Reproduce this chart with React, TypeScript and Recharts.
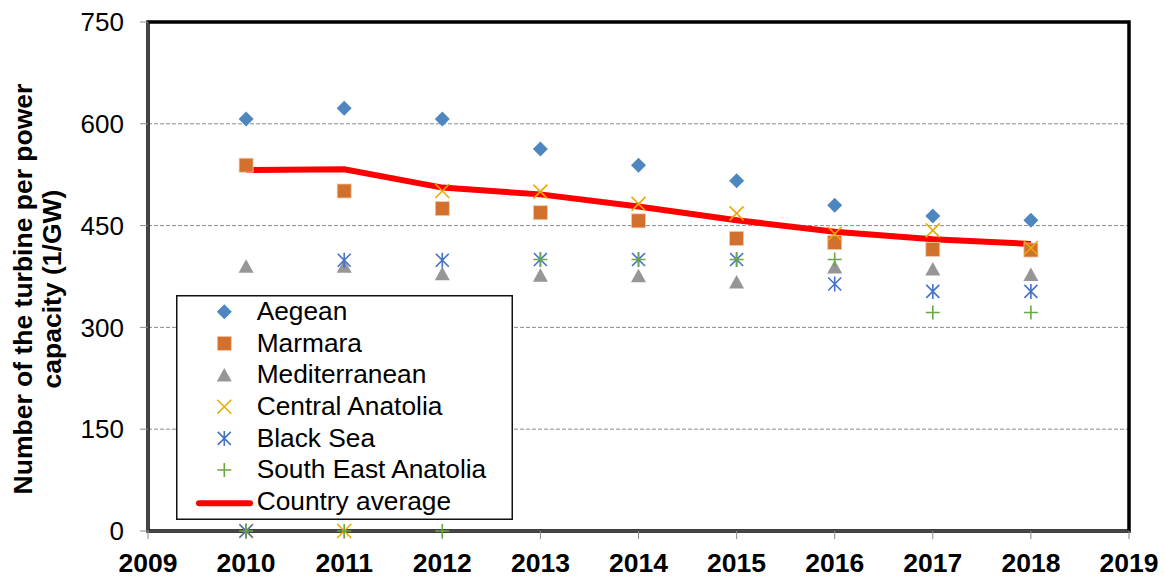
import React from "react";
import {
  ComposedChart,
  Scatter,
  Line,
  XAxis,
  YAxis,
  CartesianGrid,
  Legend,
  ReferenceArea,
} from "recharts";

const years = [2010, 2011, 2012, 2013, 2014, 2015, 2016, 2017, 2018];
const aegean = [607, 623, 607, 563, 539, 516, 480, 464, 458];
const marmara = [539, 501, 475, 469, 457, 431, 425, 415, 414];
const mediterranean = [390, 390, 379, 377, 376, 367, 389, 386, 378];
const centralAnatolia = [0, 0, 501, 500, 482, 468, 438, 443, 417];
const blackSea = [0, 399, 399, 400, 400, 400, 364, 353, 353];
const southEastAnatolia = [0, 0, 0, 400, 400, 400, 400, 322, 322];
const countryAverage = [532, 533, 506, 496, 478, 458, 441, 430, 423];

const xTicks = [2009, 2010, 2011, 2012, 2013, 2014, 2015, 2016, 2017, 2018, 2019];
const yTicks = [0, 150, 300, 450, 600, 750];

const FONT = '"Liberation Sans", Arial, sans-serif';

const C_AEGEAN = "#4E87C0";
const C_MARMARA = "#D2702D";
const C_MED = "#969696";
const C_CENTRAL = "#EBAA00";
const C_BLACK = "#4472C4";
const C_SE = "#6AA843";
const C_AVG = "#FF0000";

type P = { cx?: number; cy?: number };

const diamond = (color: string) => (p: P) => {
  const { cx = 0, cy = 0 } = p;
  const r = 7.5;
  return <path d={`M${cx},${cy - r}L${cx + r},${cy}L${cx},${cy + r}L${cx - r},${cy}Z`} fill={color} />;
};
const square = (color: string) => (p: P) => {
  const { cx = 0, cy = 0 } = p;
  const r = 7;
  return <rect x={cx - r} y={cy - r} width={2 * r} height={2 * r} fill={color} stroke="#F3C9A8" strokeWidth={0.8} />;
};
const triangle = (color: string) => (p: P) => {
  const { cx = 0, cy = 0 } = p;
  return <path d={`M${cx},${cy - 7}L${cx + 7.5},${cy + 6.5}L${cx - 7.5},${cy + 6.5}Z`} fill={color} />;
};
const cross = (color: string) => (p: P) => {
  const { cx = 0, cy = 0 } = p;
  const r = 7;
  return (
    <path d={`M${cx - r},${cy - r}L${cx + r},${cy + r}M${cx + r},${cy - r}L${cx - r},${cy + r}`} stroke={color} strokeWidth={1.6} fill="none" />
  );
};
const star = (color: string) => (p: P) => {
  const { cx = 0, cy = 0 } = p;
  const r = 6.5;
  return (
    <path
      d={`M${cx - r},${cy - r}L${cx + r},${cy + r}M${cx + r},${cy - r}L${cx - r},${cy + r}M${cx},${cy - r - 1}L${cx},${cy + r + 1}`}
      stroke={color}
      strokeWidth={1.6}
      fill="none"
    />
  );
};
const plus = (color: string) => (p: P) => {
  const { cx = 0, cy = 0 } = p;
  const r = 7;
  return <path d={`M${cx - r},${cy}L${cx + r},${cy}M${cx},${cy - r}L${cx},${cy + r}`} stroke={color} strokeWidth={1.6} fill="none" />;
};

const series = [
  { name: "Aegean", values: aegean, shape: diamond(C_AEGEAN) },
  { name: "Marmara", values: marmara, shape: square(C_MARMARA) },
  { name: "Mediterranean", values: mediterranean, shape: triangle(C_MED) },
  { name: "Central Anatolia", values: centralAnatolia, shape: cross(C_CENTRAL) },
  { name: "Black Sea", values: blackSea, shape: star(C_BLACK) },
  { name: "South East Anatolia", values: southEastAnatolia, shape: plus(C_SE) },
];

const avgData = years.map((y, i) => ({ year: y, value: countryAverage[i] }));

const LEG_W = 337;
const LEG_H = 225;

const LegendBox = () => {
  const rowH = 31.67;
  const textProps = { fontFamily: FONT, fontSize: 26.3, fill: "#000" };
  const lineY = 16.7 + 6 * rowH + 1.6;
  return (
    <svg width={LEG_W} height={LEG_H} style={{ display: "block" }}>
      <rect x={0.75} y={0.75} width={LEG_W - 1.5} height={LEG_H - 1.5} fill="#fff" stroke="#111" strokeWidth={1.5} />
      {series.map((s, i) => {
        const cy = 16.7 + i * rowH;
        return (
          <g key={s.name}>
            {s.shape({ cx: 48.3, cy })}
            <text x={80.7} y={25 + i * rowH} {...textProps}>
              {s.name}
            </text>
          </g>
        );
      })}
      <line x1={23} y1={lineY} x2={74} y2={lineY} stroke={C_AVG} strokeWidth={6} strokeLinecap="round" />
      <text x={80.7} y={25 + 6 * rowH} {...textProps}>
        Country average
      </text>
    </svg>
  );
};

const YLabel = () => {
  const cy = 289;
  const common = {
    textAnchor: "middle" as const,
    fontFamily: FONT,
    fontWeight: "bold" as const,
    fontSize: 26.5,
    fill: "#000",
  };
  return (
    <g>
      <text x={32} y={cy} transform={`rotate(-90 32 ${cy})`} {...common}>
        Number of the turbine per power
      </text>
      <text x={61} y={cy} transform={`rotate(-90 61 ${cy})`} {...common}>
        capacity (1/GW)
      </text>
    </g>
  );
};

export default function App() {
  return (
    <div style={{ position: "absolute", left: 0, top: 0, width: 1166, height: 578, background: "#fff" }}>
      <ComposedChart width={1166} height={578} margin={{ top: 22, right: 37, bottom: 0, left: 0 }}>
        <CartesianGrid horizontal vertical={false} stroke="#8C8C8C" strokeDasharray="4 2" />
        <XAxis
          type="number"
          dataKey="year"
          domain={[2009, 2019]}
          ticks={xTicks}
          interval={0}
          allowDuplicatedCategory={false}
          height={47}
          tickSize={8}
          tickMargin={14}
          stroke="#8C8C8C"
          tick={{ fill: "#000", fontFamily: FONT, fontWeight: "bold", fontSize: 26.5 }}
        />
        <YAxis
          type="number"
          domain={[0, 750]}
          ticks={yTicks}
          interval={0}
          width={148}
          tickSize={8}
          tickMargin={16}
          stroke="#8C8C8C"
          tick={{ fill: "#000", fontFamily: FONT, fontSize: 26 }}
          label={{ content: () => <YLabel /> }}
        />
        <Line
          data={avgData}
          dataKey="value"
          stroke={C_AVG}
          strokeWidth={6}
          dot={false}
          activeDot={false}
          isAnimationActive={false}
          legendType="none"
        />
        {series.map((s) => (
          <Scatter
            key={s.name}
            name={s.name}
            data={years.map((y, i) => ({ year: y, value: s.values[i] }))}
            dataKey="value"
            shape={s.shape as any}
            isAnimationActive={false}
          />
        ))}
        <ReferenceArea x1={2009} x2={2019} y1={0} y2={750} fill="none" stroke="#000" strokeWidth={3.5} ifOverflow="visible" />
        <Legend
          layout="vertical"
          align="center"
          verticalAlign="middle"
          content={() => <LegendBox />}
          wrapperStyle={{ position: "absolute", left: 176, top: 295, width: LEG_W, height: LEG_H }}
        />
      </ComposedChart>
    </div>
  );
}
